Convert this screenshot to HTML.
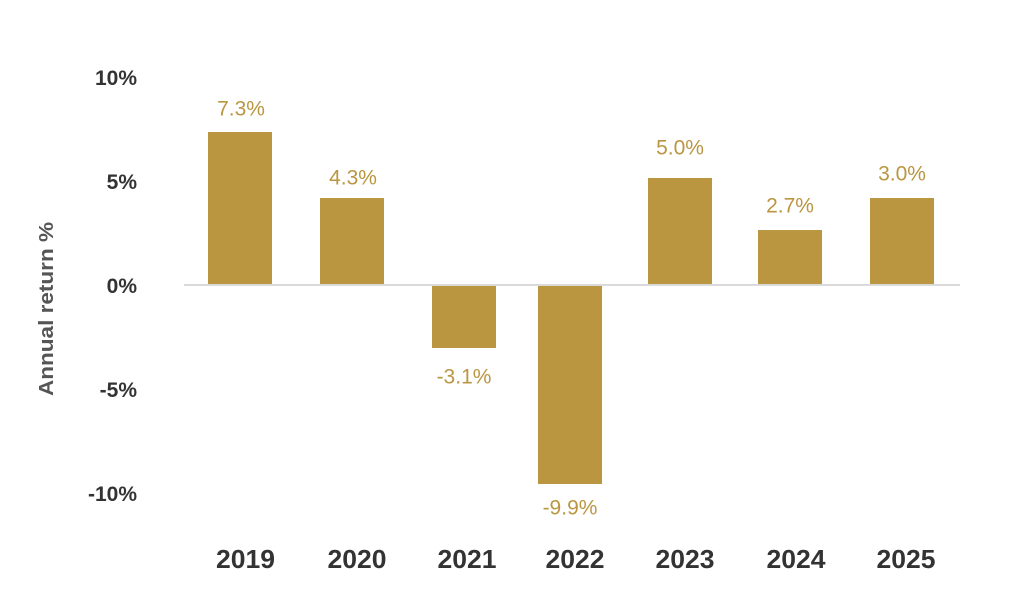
<!DOCTYPE html>
<html>
<head>
<meta charset="utf-8">
<style>
  html, body { margin: 0; padding: 0; background: #ffffff; }
  body { width: 1012px; height: 610px; overflow: hidden; }
  svg { display: block; }
  .tick { font-family: "Liberation Sans", sans-serif; font-weight: bold; font-size: 21px; fill: #333333; }
  .val { font-family: "Liberation Sans", sans-serif; font-size: 21px; fill: #BA9641; }
  .yr { font-family: "Liberation Sans", sans-serif; font-weight: bold; font-size: 26px; fill: #333333; }
  .ttl { font-family: "Liberation Sans", sans-serif; font-weight: bold; font-size: 20px; fill: #555555; }
</style>
</head>
<body>
<svg width="1012" height="610" viewBox="0 0 1012 610" xmlns="http://www.w3.org/2000/svg">
  <rect x="0" y="0" width="1012" height="610" fill="#ffffff"/>

  <!-- Y tick labels -->
  <text class="tick" x="137" y="84.8" text-anchor="end">10%</text>
  <text class="tick" x="137" y="188.8" text-anchor="end">5%</text>
  <text class="tick" x="137" y="292.8" text-anchor="end">0%</text>
  <text class="tick" x="137" y="396.8" text-anchor="end">-5%</text>
  <text class="tick" x="137" y="500.8" text-anchor="end">-10%</text>

  <!-- Axis title -->
  <text class="ttl" transform="translate(53,309) rotate(-90)" text-anchor="middle" textLength="174" lengthAdjust="spacingAndGlyphs">Annual return %</text>

  <!-- Bars -->
  <g fill="#BA9641">
    <rect x="208" y="132" width="64" height="153"/>
    <rect x="320" y="198" width="64" height="87"/>
    <rect x="432" y="285" width="64" height="63"/>
    <rect x="538" y="285" width="64" height="199"/>
    <rect x="648" y="178" width="64" height="107"/>
    <rect x="758" y="230" width="64" height="55"/>
    <rect x="870" y="198" width="64" height="87"/>
  </g>

  <!-- Zero line -->
  <rect x="184" y="284" width="776" height="2" fill="#DADADA"/>

  <!-- Value labels -->
  <text class="val" x="241" y="115.6" text-anchor="middle">7.3%</text>
  <text class="val" x="353" y="184.6" text-anchor="middle">4.3%</text>
  <text class="val" x="464" y="383.6" text-anchor="middle">-3.1%</text>
  <text class="val" x="570" y="514.6" text-anchor="middle">-9.9%</text>
  <text class="val" x="680" y="154.6" text-anchor="middle">5.0%</text>
  <text class="val" x="790" y="212.6" text-anchor="middle">2.7%</text>
  <text class="val" x="902" y="180.6" text-anchor="middle">3.0%</text>

  <!-- Year labels -->
  <text class="yr" x="245.5" y="568" text-anchor="middle" textLength="59" lengthAdjust="spacingAndGlyphs">2019</text>
  <text class="yr" x="357" y="568" text-anchor="middle" textLength="59" lengthAdjust="spacingAndGlyphs">2020</text>
  <text class="yr" x="467" y="568" text-anchor="middle" textLength="59" lengthAdjust="spacingAndGlyphs">2021</text>
  <text class="yr" x="575" y="568" text-anchor="middle" textLength="59" lengthAdjust="spacingAndGlyphs">2022</text>
  <text class="yr" x="685" y="568" text-anchor="middle" textLength="59" lengthAdjust="spacingAndGlyphs">2023</text>
  <text class="yr" x="796" y="568" text-anchor="middle" textLength="59" lengthAdjust="spacingAndGlyphs">2024</text>
  <text class="yr" x="906" y="568" text-anchor="middle" textLength="59" lengthAdjust="spacingAndGlyphs">2025</text>
</svg>
</body>
</html>
